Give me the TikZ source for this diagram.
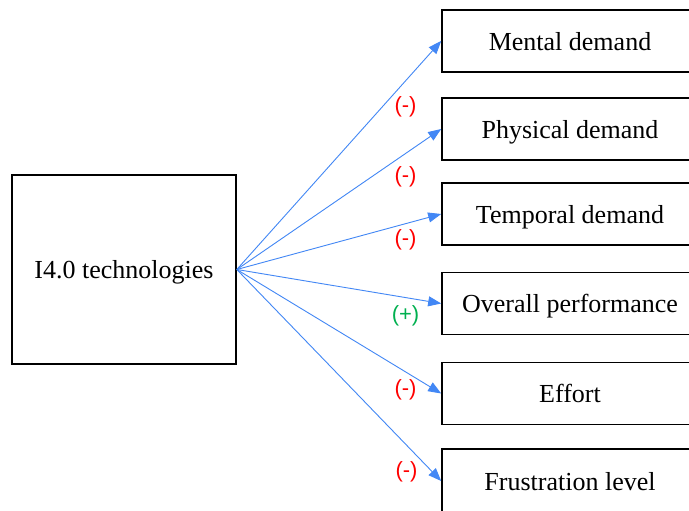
\documentclass[tikz,border=0pt]{standalone}
\usepackage{fontspec}
\setmainfont{Liberation Serif}
\newfontfamily\labfont{Liberation Sans}
\usetikzlibrary{arrows.meta}
\definecolor{arrblue}{RGB}{66,135,245}
\definecolor{posgreen}{RGB}{0,176,80}
\definecolor{negred}{RGB}{255,0,0}
\begin{document}
\begin{tikzpicture}[x=1pt,y=-1pt,
  box/.style={draw=black,line width=1.6pt,fill=white,inner sep=0pt,
    font=\fontsize{26}{30}\selectfont,text depth=0pt},
  outbox/.style={box,minimum width=256pt,minimum height=62pt},
  arr/.style={draw=arrblue,line width=0.9pt,-{Triangle[length=13pt,width=10pt]}},
  neglab/.style={text=negred,font=\labfont\fontsize{22}{25}\selectfont,inner sep=0pt},
  poslab/.style={text=posgreen,font=\labfont\fontsize{22}{25}\selectfont,inner sep=0pt}]
\useasboundingbox (0,0) rectangle (689,511);
\fill[white] (0,0) rectangle (689,511);
\node[box,minimum width=224pt,minimum height=189pt] (L) at (124,269.5) {I4.0 technologies};
\node[outbox] (M) at (570,41) {Mental demand};
\node[outbox] (P) at (570,129) {Physical demand};
\node[outbox] (T) at (570,214) {Temporal demand};
\node[outbox] (O) at (570,303.5) {Overall performance};
\node[outbox] (E) at (570,393.5) {Effort};
\node[outbox,minimum height=64pt] (F) at (570,481) {Frustration level};
\draw[arr] (L.east) -- (M.west);
\draw[arr] (L.east) -- (P.west);
\draw[arr] (L.east) -- (T.west);
\draw[arr] (L.east) -- (O.west);
\draw[arr] (L.east) -- (E.west);
\draw[arr] (L.east) -- (F.west);
\node[neglab] (l1) at (405.5,107) {(-)};
\node[neglab] (l2) at (405.5,177) {(-)};
\node[neglab] (l3) at (405.5,240) {(-)};
\node[poslab] (l4) at (405.5,316) {(+)};
\node[neglab] (l5) at (405.5,390) {(-)};
\node[neglab] (l6) at (406.5,472) {(-)};
\end{tikzpicture}
\end{document}
